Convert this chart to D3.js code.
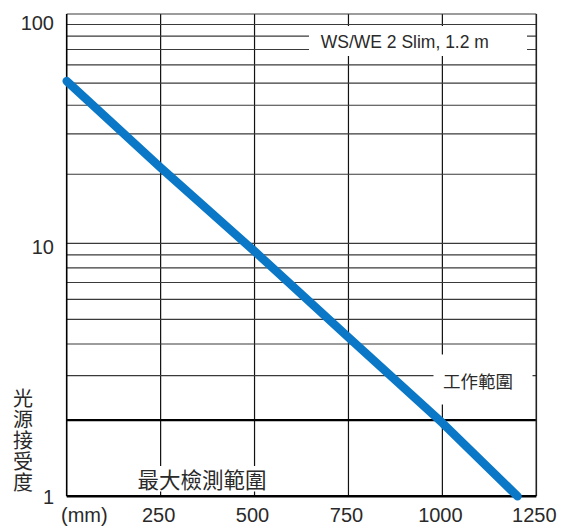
<!DOCTYPE html>
<html><head><meta charset="utf-8">
<script src="https://cdn.jsdelivr.net/npm/d3@7"></script>
<style>
html,body{margin:0;padding:0;background:#fff;}
svg{display:block;}
text{font-family:"Liberation Sans",Arial,sans-serif;fill:#2a2a2a;}
.cjk{font-family:"Noto Sans CJK TC","Noto Sans CJK JP",sans-serif;}
.vert{writing-mode:vertical-rl;text-orientation:upright;}
</style></head>
<body>
<svg id="chart" width="563" height="526"></svg>
<script>
// ---- data ----
const distance = [0, 250, 500, 750, 1000, 1200];      // mm
const ratio    = [51, 21.4, 9.3, 4.25, 1.95, 1];      // light reception ratio
const xTicks = [250, 500, 750, 1000, 1250];
const yTicks = [1, 10, 100];
const yGrid  = [2,3,4,5,6,7,8,9,10,20,30,40,50,60,70,80,90,100];
const seriesName = "WS/WE 2 Slim, 1.2 m";
const workLabel = "工作範圍";
const maxLabel = "最大檢測範圍";
const yTitle = "光源接受度";
const xUnit = "(mm)";
const workLevel = 2;

// ---- layout ----
const svg = d3.select("#chart");
const L = 66.7, R = 536.3, T = 14, B = 496.3;
const x = d3.scaleLinear().domain([0, 1250]).range([L, R]);
const y = d3.scaleLog().domain([1, 10, 100]).range([B, 243.3, T]);

// vertical grid
svg.append("g").selectAll("line").data(xTicks.slice(0, -1)).join("line")
  .attr("x1", d => x(d)).attr("x2", d => x(d))
  .attr("y1", T).attr("y2", B)
  .attr("stroke", "#111").attr("stroke-width", 1.2);

// horizontal grid
svg.append("g").selectAll("line").data(yGrid).join("line")
  .attr("x1", L).attr("x2", R)
  .attr("y1", d => y(d)).attr("y2", d => y(d))
  .attr("stroke", d => d === workLevel ? "#000" : "#3a3a3a")
  .attr("stroke-width", d => d === workLevel ? 2.2 : 1.2);

// white boxes behind labels
svg.append("rect").attr("x", 309).attr("y", 26).attr("width", 218).attr("height", 30).attr("fill", "#fff");
svg.append("rect").attr("x", 433.5).attr("y", 354.5).attr("width", 99).attr("height", 50).attr("fill", "#fff");
svg.append("rect").attr("x", 134).attr("y", 466).attr("width", 137).attr("height", 25.5).attr("fill", "#fff");

// frame
svg.append("line").attr("x1", L).attr("x2", L).attr("y1", T).attr("y2", B)
  .attr("stroke", "#000").attr("stroke-width", 1.6);
svg.append("line").attr("x1", R).attr("x2", R).attr("y1", T).attr("y2", B)
  .attr("stroke", "#222").attr("stroke-width", 1.6);
svg.append("line").attr("x1", L).attr("x2", R).attr("y1", y(1)).attr("y2", y(1))
  .attr("stroke", "#000").attr("stroke-width", 2.4);

// labels inside
svg.append("text").attr("x", 320.7).attr("y", 47.5)
  .attr("font-size", 17.5).text(seriesName);
svg.append("text").attr("class", "cjk").attr("x", 443).attr("y", 387.5)
  .attr("font-size", 17.5).text(workLabel);
svg.append("text").attr("class", "cjk").attr("x", 137.5).attr("y", 488)
  .attr("font-size", 21.5).text(maxLabel);

// blue curve
const line = d3.line().x((d, i) => x(distance[i])).y(d => y(d));
svg.append("path").datum(ratio)
  .attr("d", line)
  .attr("fill", "none").attr("stroke", "#0a78c6")
  .attr("stroke-width", 8.5).attr("stroke-linecap", "round").attr("stroke-linejoin", "round");

// y tick labels
svg.append("g").selectAll("text").data(yTicks).join("text")
  .attr("x", 54).attr("y", d => Math.max(y(d) + (d === 1 ? 1 : 4), T + 9))
  .attr("text-anchor", "end").attr("dominant-baseline", "central")
  .attr("font-size", 20).text(d => d);

// x tick labels
svg.append("g").selectAll("text").data(xTicks).join("text")
  .attr("x", d => x(d) - 2).attr("y", 522)
  .attr("text-anchor", "middle").attr("font-size", 20).text(d => d);
svg.append("text").attr("x", 61).attr("y", 522).attr("font-size", 20).text(xUnit);

// y title, vertical writing
svg.append("text").attr("class", "cjk vert").attr("font-size", 20)
  .attr("letter-spacing", 1)
  .attr("x", 23).attr("y", 388).text(yTitle);
</script>
</body></html>
